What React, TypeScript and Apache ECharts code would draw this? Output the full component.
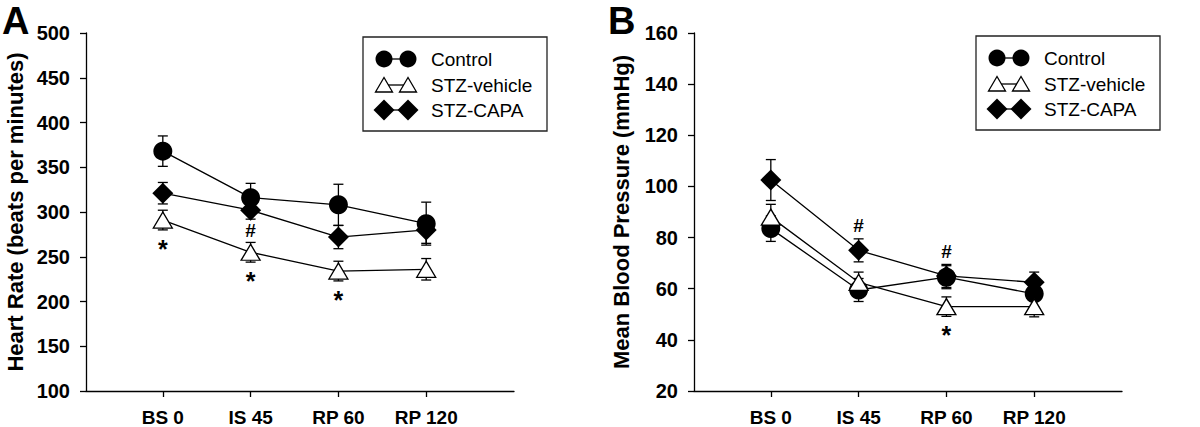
import React, { useEffect, useRef } from 'react';
import * as echarts from 'echarts';

// ---- data ----
const categories = ['BS 0', 'IS 45', 'RP 60', 'RP 120'];
const groupNames = ['Control', 'STZ-vehicle', 'STZ-CAPA'];

// Panel A: Heart Rate
const controlHR = [368, 316, 308, 287];
const controlHRErr = [17, 16, 23, 24];
const vehicleHR = [291, 255, 234, 236];
const vehicleHRErr = [11, 11, 11, 12];
const capaHR = [321, 302, 272, 280];
const capaHRErr = [12, 10, 13, 15];

// Panel B: Mean Blood Pressure
const controlMBP = [83.5, 59.5, 64.5, 58];
const controlMBPErr = [5, 4.5, 4.5, 5];
const vehicleMBP = [88, 62.5, 53, 53];
const vehicleMBPErr = [5, 4, 3.8, 4];
const capaMBP = [102.5, 75, 65, 62.5];
const capaMBPErr = [8, 4.5, 4.5, 4];

// significance marks: group index, category index, mark, side
const annotHR = [
  { group: 1, index: 0, mark: '*', side: 'below' },
  { group: 1, index: 1, mark: '*', side: 'below' },
  { group: 1, index: 2, mark: '*', side: 'below' },
  { group: 2, index: 1, mark: '#', side: 'below' },
];
const annotMBP = [
  { group: 2, index: 1, mark: '#', side: 'above' },
  { group: 2, index: 2, mark: '#', side: 'above' },
  { group: 1, index: 2, mark: '*', side: 'below' },
];

const FONT = '"Liberation Sans", Arial, Helvetica, sans-serif';

const groupStyles = [
  { symbol: 'circle', size: 19, fill: '#000', border: 0 },
  { symbol: 'triangle', size: [19, 16], fill: '#fff', border: 1.3 },
  { symbol: 'diamond', size: [21, 21], fill: '#000', border: 0 },
];

function buildPanel(idx: number, values: number[][], errs: number[][], annots: any[]) {
  const series: any[] = [];
  values.forEach((vals, g) => {
    const st = groupStyles[g];
    series.push({
      type: 'custom',
      name: groupNames[g] + ' err' + idx,
      xAxisIndex: idx,
      yAxisIndex: idx,
      z: 2,
      data: vals.map((v, i) => [i, v, errs[g][i]]),
      renderItem: (params: any, api: any) => {
        const x = api.value(0);
        const y = api.value(1);
        const e = api.value(2);
        const top = api.coord([x, y + e]);
        const bot = api.coord([x, y - e]);
        const hw = 5;
        const s = { stroke: '#000', lineWidth: 1.3 };
        return {
          type: 'group',
          children: [
            { type: 'line', shape: { x1: top[0], y1: top[1], x2: bot[0], y2: bot[1] }, style: s },
            { type: 'line', shape: { x1: top[0] - hw, y1: top[1], x2: top[0] + hw, y2: top[1] }, style: s },
            { type: 'line', shape: { x1: bot[0] - hw, y1: bot[1], x2: bot[0] + hw, y2: bot[1] }, style: s },
          ],
        };
      },
    });
    series.push({
      type: 'line',
      name: groupNames[g] + idx,
      xAxisIndex: idx,
      yAxisIndex: idx,
      z: 3,
      data: vals.map((v, i) => [i, v]),
      symbol: st.symbol,
      symbolSize: st.size,
      showSymbol: true,
      lineStyle: { color: '#000', width: 1.3 },
      itemStyle: { color: st.fill, borderColor: '#000', borderWidth: st.border },
      emphasis: { disabled: true },
    });
  });
  series.push({
    type: 'custom',
    name: 'annot' + idx,
    xAxisIndex: idx,
    yAxisIndex: idx,
    z: 4,
    data: annots.map((a) => [
      a.index,
      values[a.group][a.index],
      errs[a.group][a.index],
      a.side === 'below' ? -1 : 1,
    ]),
    renderItem: (params: any, api: any) => {
      const a = annots[params.dataIndex];
      const x = api.value(0);
      const y = api.value(1);
      const e = api.value(2);
      const dir = api.value(3);
      const p = api.coord([x, y + dir * e]);
      const isStar = a.mark === '*';
      let off;
      if (isStar) off = 19;
      else off = dir < 0 ? 11 : -13;
      return {
        type: 'text',
        x: p[0],
        y: p[1] + off,
        style: {
          text: a.mark,
          fill: '#000',
          fontSize: isStar ? 25 : 19,
          fontWeight: 'bold',
          fontFamily: FONT,
          align: 'center',
          verticalAlign: 'middle',
        },
      };
    },
  });
  return series;
}

function legendGraphic(bx: number, by: number) {
  const children: any[] = [
    { type: 'rect', shape: { x: bx, y: by, width: 184, height: 94 }, style: { fill: '#fff', stroke: '#222', lineWidth: 1.3 } },
  ];
  const rows = [by + 22, by + 48, by + 73];
  const x1 = bx + 21;
  const x2 = bx + 45;
  groupNames.forEach((name, g) => {
    const cy = rows[g];
    children.push({ type: 'line', shape: { x1, y1: cy, x2, y2: cy }, style: { stroke: '#000', lineWidth: 1.3 } });
    [x1, x2].forEach((cx) => {
      if (g === 0) {
        children.push({ type: 'circle', shape: { cx, cy, r: 8.5 }, style: { fill: '#000' } });
      } else if (g === 1) {
        children.push({
          type: 'polygon',
          shape: { points: [[cx, cy - 7.5], [cx - 8.5, cy + 7], [cx + 8.5, cy + 7]] },
          style: { fill: '#fff', stroke: '#000', lineWidth: 1.3 },
        });
      } else {
        children.push({
          type: 'polygon',
          shape: { points: [[cx, cy - 10.5], [cx + 10.5, cy], [cx, cy + 10.5], [cx - 10.5, cy]] },
          style: { fill: '#000' },
        });
      }
    });
    children.push({
      type: 'text',
      x: bx + 68,
      y: cy,
      style: { text: name, fill: '#000', fontSize: 19, fontFamily: FONT, verticalAlign: 'middle', align: 'left' },
    });
  });
  return { type: 'group', children };
}

function xAxisDef(gridIndex: number) {
  return {
    type: 'value',
    gridIndex,
    min: -0.875,
    max: 4,
    axisLine: { show: true, onZero: false, lineStyle: { color: '#000', width: 1.3 } },
    axisTick: { show: true, inside: false, length: 6, customValues: [0, 1, 2, 3], lineStyle: { color: '#000', width: 1.3 } },
    axisLabel: {
      customValues: [0, 1, 2, 3],
      formatter: (v: number) => categories[Math.round(v)] ?? '',
      color: '#000',
      fontSize: 19,
      fontWeight: 'bold',
      fontFamily: FONT,
      margin: 17,
    },
    splitLine: { show: false },
  };
}

function yAxisDef(gridIndex: number, min: number, max: number, interval: number, name: string, nameGap: number) {
  return {
    type: 'value',
    gridIndex,
    min,
    max,
    interval,
    name,
    nameLocation: 'middle',
    nameGap,
    nameTextStyle: { color: '#000', fontSize: 22, fontWeight: 'bold', fontFamily: FONT },
    axisLine: { show: true, onZero: false, lineStyle: { color: '#000', width: 1.3 } },
    axisTick: { show: true, inside: false, length: 6, lineStyle: { color: '#000', width: 1.3 } },
    axisLabel: { color: '#000', fontSize: 20, fontWeight: 'bold', fontFamily: FONT, margin: 16 },
    splitLine: { show: false },
  };
}

export default function App() {
  const ref = useRef<HTMLDivElement>(null);
  useEffect(() => {
    const chart = echarts.init(ref.current!, null, { renderer: 'svg', width: 1200, height: 427 });
    const option: any = {
      animation: false,
      backgroundColor: '#fff',
      grid: [
        { left: 86, top: 33, width: 428, height: 360 },
        { left: 694, top: 33, width: 428, height: 360 },
      ],
      xAxis: [xAxisDef(0), xAxisDef(1)],
      yAxis: [
        yAxisDef(0, 100, 500, 50, 'Heart Rate (beats per minutes)', 60),
        yAxisDef(1, 20, 160, 20, 'Mean Blood Pressure (mmHg)', 62),
      ],
      series: [
        ...buildPanel(0, [controlHR, vehicleHR, capaHR], [controlHRErr, vehicleHRErr, capaHRErr], annotHR),
        ...buildPanel(1, [controlMBP, vehicleMBP, capaMBP], [controlMBPErr, vehicleMBPErr, capaMBPErr], annotMBP),
      ],
      graphic: [
        legendGraphic(363, 37),
        legendGraphic(976, 36),
        { type: 'text', x: 2, y: 2, style: { text: 'A', fill: '#000', fontSize: 38, fontWeight: 'bold', fontFamily: FONT, verticalAlign: 'top' } },
        { type: 'text', x: 608, y: 2, style: { text: 'B', fill: '#000', fontSize: 38, fontWeight: 'bold', fontFamily: FONT, verticalAlign: 'top' } },
      ],
    };
    chart.setOption(option);
    return () => chart.dispose();
  }, []);
  return (
    <div
      ref={ref}
      style={{ position: 'absolute', left: 0, top: 0, width: 1200, height: 427, background: '#fff' }}
    />
  );
}
